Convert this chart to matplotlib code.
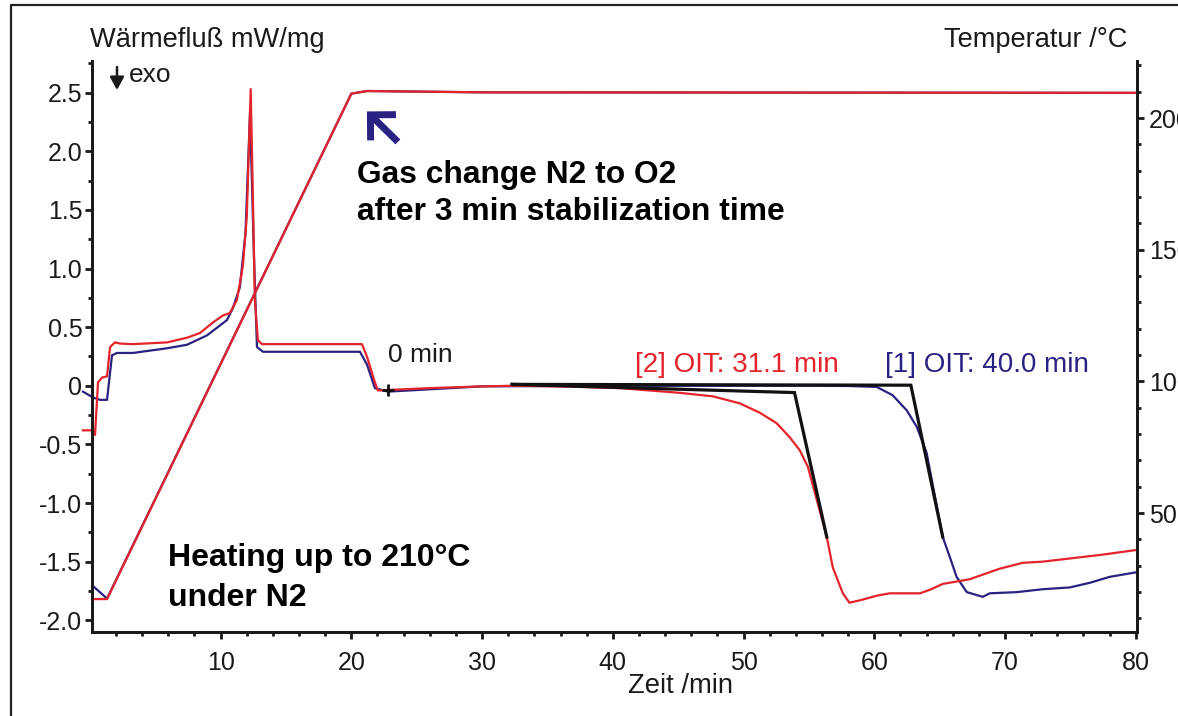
import matplotlib
matplotlib.use("Agg")
import matplotlib.pyplot as plt
from matplotlib.ticker import MultipleLocator, FixedLocator, FixedFormatter
from matplotlib.lines import Line2D
from matplotlib.patches import FancyArrowPatch

plt.rcParams["font.family"] = ["Liberation Sans", "DejaVu Sans"]

RED = "#e4232b"
NAVY = "#2a2282"

# Heat flow, sample [1] (blue)
time_s1 = [-0.53, 0.24, 0.77, 1.31, 1.69, 2.07, 3.30, 5.90, 7.43, 8.96,
           10.48, 10.93, 11.47, 11.90, 12.25, 12.55, 12.78, 13.24, 20.66, 21.20,
           21.80, 22.80, 26.0, 30.0, 40.0, 50.0, 56.0, 58.1, 60.19, 61.40,
           62.49, 63.25, 64.00, 65.24, 65.78, 66.30, 67.08, 68.30, 68.84, 70.90,
           72.90, 74.96, 76.50, 78.00, 80.08]
flow_s1 = [-0.05, -0.10, -0.12, -0.12, 0.26, 0.28, 0.28, 0.32, 0.35, 0.43,
           0.56, 0.66, 0.84, 1.30, 2.33, 1.10, 0.33, 0.29, 0.29, 0.18,
           -0.02, -0.05, -0.03, -0.005, 0.0, 0.0, 0.0, -0.002, -0.01, -0.08,
           -0.21, -0.35, -0.57, -1.29, -1.46, -1.63, -1.76, -1.80, -1.77, -1.76,
           -1.735, -1.72, -1.68, -1.63, -1.59]

# Heat flow, sample [2] (red)
time_s2 = [-0.53, 0.24, 0.39, 0.62, 0.93, 1.31, 1.54, 1.92, 2.30, 3.30,
           5.90, 7.43, 8.42, 9.41, 10.18, 10.70, 11.24, 11.70, 12.00, 12.30,
           12.47, 12.62, 12.85, 13.16, 20.81, 21.19, 21.80, 22.03, 22.95, 26.0,
           30.0, 32.3, 36.0, 40.5, 45.1, 47.65, 49.72, 51.25, 52.54, 53.54,
           54.30, 54.92, 56.37, 56.83, 57.60, 58.10, 58.90, 60.20, 61.20, 63.50,
           64.25, 65.24, 67.30, 69.60, 71.36, 72.89, 74.42, 75.95, 77.48, 80.08]
flow_s2 = [-0.38, -0.38, -0.42, 0.03, 0.07, 0.08, 0.33, 0.37, 0.36, 0.355,
           0.37, 0.41, 0.45, 0.54, 0.60, 0.62, 0.73, 1.02, 1.44, 2.53,
           1.59, 0.73, 0.39, 0.355, 0.355, 0.25, 0.03, -0.04, -0.035, -0.02,
           -0.005, 0.0, -0.005, -0.02, -0.06, -0.09, -0.15, -0.23, -0.32, -0.44,
           -0.55, -0.69, -1.29, -1.55, -1.77, -1.85, -1.83, -1.79, -1.77, -1.77,
           -1.74, -1.69, -1.65, -1.56, -1.51, -1.50, -1.48, -1.46, -1.44, -1.40]

# Temperature programme of both runs
temp_time = [0.16, 1.31, 20.0, 21.2, 30.0, 80.1]
temp_s1 = [22.6, 17.5, 209.3, 210.3, 209.8, 209.6]
temp_s2 = [17.3, 17.3, 209.3, 210.3, 209.8, 209.6]

# OIT evaluation (onset tangents)
t_zero = 22.8
flow_zero = -0.035
oit_s1 = 40.0
oit_s2 = 31.1
baseline_start = (32.3, 0.012)
onset_level_s1 = 0.005
onset_level_s2 = -0.058
tangent_end_s1 = (65.24, -1.29)
tangent_end_s2 = (56.37, -1.29)

y_ticks = [-2.0, -1.5, -1.0, -0.5, 0.0, 0.5, 1.0, 1.5, 2.0, 2.5]
y_tick_labels = ["-2.0", "-1.5", "-1.0", "-0.5", "0", "0.5", "1.0", "1.5", "2.0", "2.5"]
x_ticks = [10, 20, 30, 40, 50, 60, 70, 80]
t_ticks = [50, 100, 150, 200]

INK = "#1a1a1a"
W, H = 1178, 716
fig = plt.figure(figsize=(W / 100, H / 100), dpi=100)
ax = fig.add_axes([92 / W, 1 - 632 / H, (1137 - 92) / W, (632 - 61) / H])
ax2 = ax.twinx()

ax.plot(time_s1, flow_s1, color=NAVY, lw=1.6, clip_on=False, zorder=3)
ax.plot(time_s2, flow_s2, color=RED, lw=1.6, clip_on=False, zorder=4)

# onset tangent construction
onset_s1 = t_zero + oit_s1
onset_s2 = t_zero + oit_s2
ax.plot([baseline_start[0], onset_s1, tangent_end_s1[0]],
        [baseline_start[1], onset_level_s1, tangent_end_s1[1]],
        color="#111111", lw=2.3, zorder=5, solid_joinstyle="miter")
ax.plot([baseline_start[0], onset_s2, tangent_end_s2[0]],
        [baseline_start[1], onset_level_s2, tangent_end_s2[1]],
        color="#111111", lw=2.3, zorder=5, solid_joinstyle="miter")
ax.plot([t_zero], [flow_zero], marker="+", ms=9, mew=2, color="#111111", zorder=6)

ax2.plot(temp_time, temp_s1, color=NAVY, lw=1.6)
ax2.plot(temp_time, temp_s2, color=RED, lw=1.6)

ax.set_xlim(0.16, 80.1)
ax.set_ylim(-2.10, 2.77)
ax2.set_ylim(4.8, 221.7)

for a in (ax, ax2):
    a.spines["top"].set_visible(False)
    for s in ("left", "right", "bottom"):
        a.spines[s].set_linewidth(2.0)
        a.spines[s].set_color(INK)
    a.set_facecolor("none")

ax.xaxis.set_major_locator(FixedLocator(x_ticks))
ax.xaxis.set_minor_locator(MultipleLocator(2))
ax.yaxis.set_major_locator(FixedLocator(y_ticks))
ax.yaxis.set_major_formatter(FixedFormatter(y_tick_labels))
ax.yaxis.set_minor_locator(MultipleLocator(0.25))
ax2.yaxis.set_major_locator(FixedLocator(t_ticks))
ax2.yaxis.set_minor_locator(MultipleLocator(10))

ax.tick_params(axis="both", which="major", direction="out", length=5, width=2,
               labelsize=18, colors=INK)
ax.tick_params(axis="both", which="minor", direction="out", length=2.8, width=2,
               colors=INK)
ax.tick_params(axis="x", which="major", pad=9)
ax.tick_params(axis="y", which="major", pad=2)
ax2.tick_params(axis="y", which="major", direction="out", length=5, width=2,
                labelsize=18, pad=3.5, colors=INK)
ax2.tick_params(axis="y", which="minor", direction="out", length=2.8, width=2,
                colors=INK)

# axis titles
fig.text(90 / W, 1 - 40 / H, "Wärmefluß mW/mg", ha="left", va="center",
         fontsize=19.6, color=INK)
fig.text(1127 / W, 1 - 40 / H, "Temperatur /°C", ha="right", va="center",
         fontsize=19.6, color=INK)
fig.text(680 / W, 1 - 686 / H, "Zeit /min", ha="center", va="center",
         fontsize=19.7, color=INK)

# exothermic direction marker
fig.add_artist(FancyArrowPatch((117 / W, 1 - 67 / H), (117 / W, 1 - 90 / H),
                               transform=fig.transFigure,
                               arrowstyle="-|>,head_length=0.55,head_width=0.3",
                               mutation_scale=14, color=INK, lw=1.8,
                               shrinkA=0, shrinkB=0))
fig.text(129 / W, 1 - 75 / H, "exo", ha="left", va="center",
         fontsize=19, color=INK)

# annotations
ax.text(t_zero, 0.26, "0 min", ha="left", va="center", fontsize=19, color=INK)
ax.text(41.7, 0.175, f"[2] OIT: {oit_s2:.1f} min", ha="left", va="center",
        fontsize=20, color=RED)
ax.text(60.8, 0.175, f"[1] OIT: {oit_s1:.1f} min", ha="left", va="center",
        fontsize=20, color=NAVY)
ax.text(20.43, 1.80, "Gas change N2 to O2", ha="left", va="center",
        fontsize=22.9, fontweight="bold", color="black")
ax.text(20.43, 1.484, "after 3 min stabilization time", ha="left", va="center",
        fontsize=22.9, fontweight="bold", color="black")
ax.text(5.97, -1.47, "Heating up to 210°C", ha="left", va="center",
        fontsize=23, fontweight="bold", color="black")
ax.text(5.97, -1.81, "under N2", ha="left", va="center",
        fontsize=23, fontweight="bold", color="black")

ax.annotate("", xy=(21.19, 2.34), xytext=(23.56, 2.08),
            arrowprops=dict(arrowstyle="->,head_length=1.3,head_width=1.3",
                            color=NAVY, lw=5, shrinkA=0, shrinkB=0,
                            joinstyle="miter", capstyle="butt"),
            annotation_clip=False)

# outer frame
fig.add_artist(Line2D([11 / W, 11 / W, 1.01], [-0.01, 1 - 5 / H, 1 - 5 / H],
                      transform=fig.transFigure, color="#222222", lw=1.6))

fig.savefig("out.png", dpi=100, facecolor="white")
